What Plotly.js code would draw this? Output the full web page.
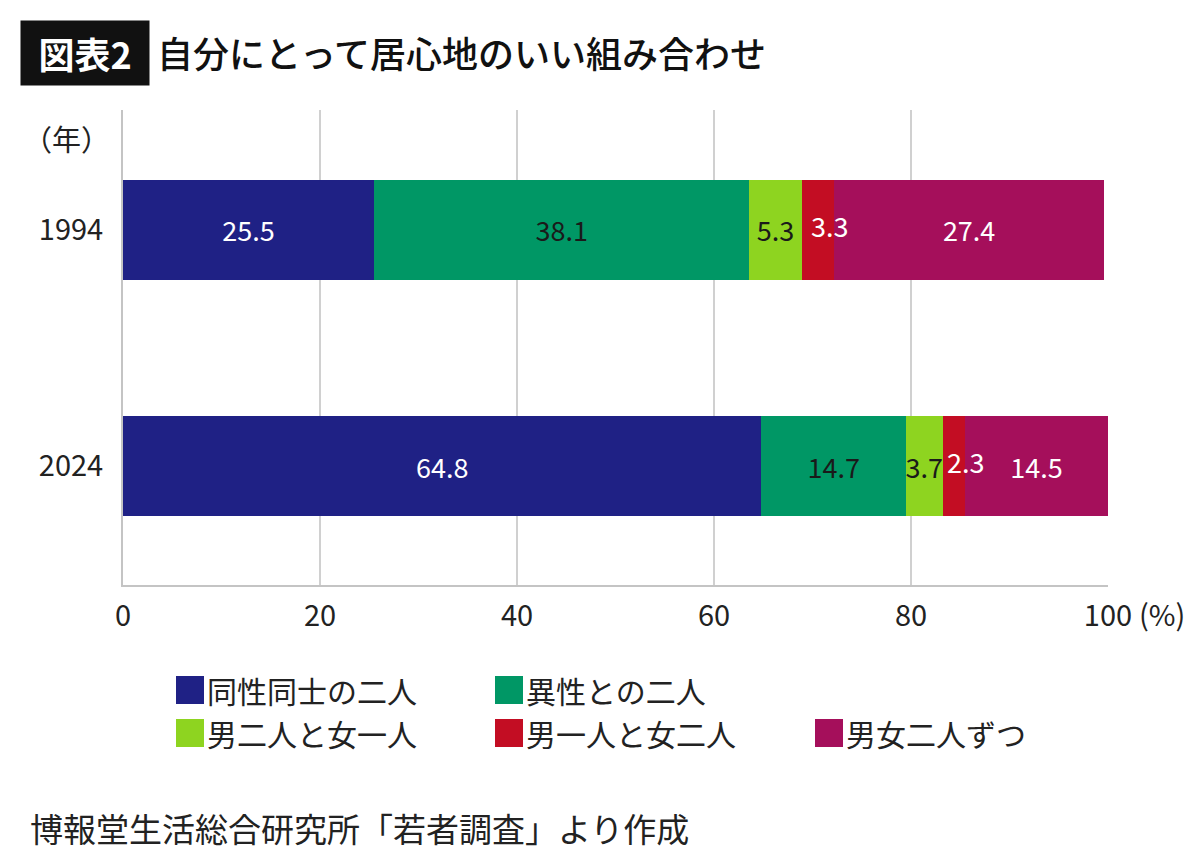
<!DOCTYPE html>
<html>
<head>
<meta charset="utf-8">
<script src="https://cdn.plot.ly/plotly-3.0.1.min.js"></script>
<style>html,body{margin:0;padding:0;background:#fff;}#chart{width:1200px;height:859px;}</style>
</head>
<body>
<div id="chart"></div>
<script>
const categories = ['1994', '2024'];
const seriesNames = ['同性同士の二人', '異性との二人', '男二人と女一人', '男一人と女二人', '男女二人ずつ'];
const values1994 = [25.5, 38.1, 5.3, 3.3, 27.4];
const values2024 = [64.8, 14.7, 3.7, 2.3, 14.5];
const xTickValues = [0, 20, 40, 60, 80, 100];
const xTickLabels = ['0', '20', '40', '60', '80', '100'];
const seriesColors = ['#1f2185', '#009765', '#8ed420', '#c30d23', '#a50f5b'];
const labelColors = ['#ffffff', '#1a1a1a', '#1a1a1a', '#ffffff', '#ffffff'];

const FONT = '"Noto Sans CJK JP", "Noto Sans", sans-serif';
const W = 1200, H = 859;
const L = 123, R = 1108, T = 110, B = 585;
const px = x => (x - L) / (R - L);
const py = y => (B - y) / (B - T);

// series whose labels overflow the narrow bar: drawn as a text layer above all bars
const overlayIndex = 3;
const overlayShift = 1.2;
const starts = vals => vals.map((v, i) => vals.slice(0, i).reduce((a, b) => a + b, 0));
const s1994 = starts(values1994), s2024 = starts(values2024);

const traces = seriesNames.map((name, i) => ({
  type: 'bar',
  orientation: 'h',
  name: name,
  y: categories,
  x: [values1994[i], values2024[i]],
  text: i === overlayIndex ? ['', ''] : [values1994[i].toFixed(1), values2024[i].toFixed(1)],
  textposition: 'inside',
  insidetextanchor: 'middle',
  constraintext: 'none',
  textfont: {family: FONT, size: 27, color: labelColors[i]},
  marker: {color: seriesColors[i], line: {width: 0}},
  width: 0.424,
  showlegend: false,
  hoverinfo: 'x+name'
}));
traces.push({
  type: 'scatter', mode: 'text', showlegend: false, hoverinfo: 'skip', cliponaxis: false,
  y: categories,
  x: [s1994[overlayIndex] + values1994[overlayIndex] / 2 + overlayShift,
      s2024[overlayIndex] + values2024[overlayIndex] / 2 + overlayShift],
  text: [values1994[overlayIndex].toFixed(1), values2024[overlayIndex].toFixed(1)],
  textposition: 'middle center',
  textfont: {family: FONT, size: 27, color: labelColors[overlayIndex]}
});

const legendPos = [[176, 690], [495, 690], [176, 733], [495, 733], [815, 733]];
const swatch = 28;
const annotations = [
  {text: '図表2', xref: 'paper', yref: 'paper', x: px(20), y: py(20), xanchor: 'left', yanchor: 'top',
   width: 126, height: 62, bgcolor: '#111111', showarrow: false,
   font: {family: FONT, size: 36, color: '#ffffff', weight: 'bold'}},
  {text: '自分にとって居心地のいい組み合わせ', xref: 'paper', yref: 'paper', x: px(155), y: py(52),
   xanchor: 'left', yanchor: 'middle', showarrow: false,
   font: {family: FONT, size: 36, color: '#111111', weight: 500}},
  {text: '（年）', xref: 'paper', yref: 'paper', x: px(112), y: py(138), xanchor: 'right', yanchor: 'middle',
   showarrow: false, font: {family: FONT, size: 29, color: '#222222'}},
  {text: '(%)', xref: 'paper', yref: 'paper', x: px(1137), y: py(613), xanchor: 'left', yanchor: 'middle',
   showarrow: false, font: {family: FONT, size: 29, color: '#222222'}},
  {text: '博報堂生活総合研究所「若者調査」より作成', xref: 'paper', yref: 'paper', x: px(28), y: py(828),
   xanchor: 'left', yanchor: 'middle', showarrow: false, font: {family: FONT, size: 33, color: '#222222'}}
];
const shapes = [];
seriesNames.forEach((name, i) => {
  const [lx, ly] = legendPos[i];
  shapes.push({
    type: 'rect', xref: 'paper', yref: 'paper', layer: 'above',
    x0: px(lx), x1: px(lx + swatch), y0: py(ly + swatch / 2), y1: py(ly - swatch / 2),
    fillcolor: seriesColors[i], line: {width: 0}
  });
  annotations.push({
    text: name,
    xref: 'paper', yref: 'paper', x: px(lx + swatch + 1), y: py(ly),
    xanchor: 'left', yanchor: 'middle', showarrow: false,
    font: {family: FONT, size: 30, color: '#222222'}
  });
});

const layout = {
  width: W, height: H,
  margin: {l: L, r: W - R, t: T, b: H - B, pad: 0},
  paper_bgcolor: '#ffffff', plot_bgcolor: '#ffffff',
  barmode: 'stack',
  bargap: 0,
  showlegend: false,
  font: {family: FONT, color: '#222222'},
  xaxis: {
    range: [0, 100], tickvals: xTickValues, ticktext: xTickLabels,
    showgrid: true, gridcolor: '#d0d0d0', gridwidth: 2,
    showline: true, linecolor: '#c4c4c4', linewidth: 2,
    zeroline: false, ticks: '', ticklabelstandoff: 4,
    tickfont: {family: FONT, size: 29, color: '#222222'}, fixedrange: true
  },
  yaxis: {
    type: 'category', categoryarray: ['2024', '1994'], categoryorder: 'array',
    range: [-0.504, 1.508],
    showgrid: false, showline: true, linecolor: '#c4c4c4', linewidth: 2,
    zeroline: false, ticks: '', ticklabelstandoff: 12,
    tickfont: {family: FONT, size: 29, color: '#222222'}, fixedrange: true
  },
  shapes: shapes,
  annotations: annotations
};

Plotly.newPlot('chart', traces, layout, {displayModeBar: false, staticPlot: true});
</script>
</body>
</html>
